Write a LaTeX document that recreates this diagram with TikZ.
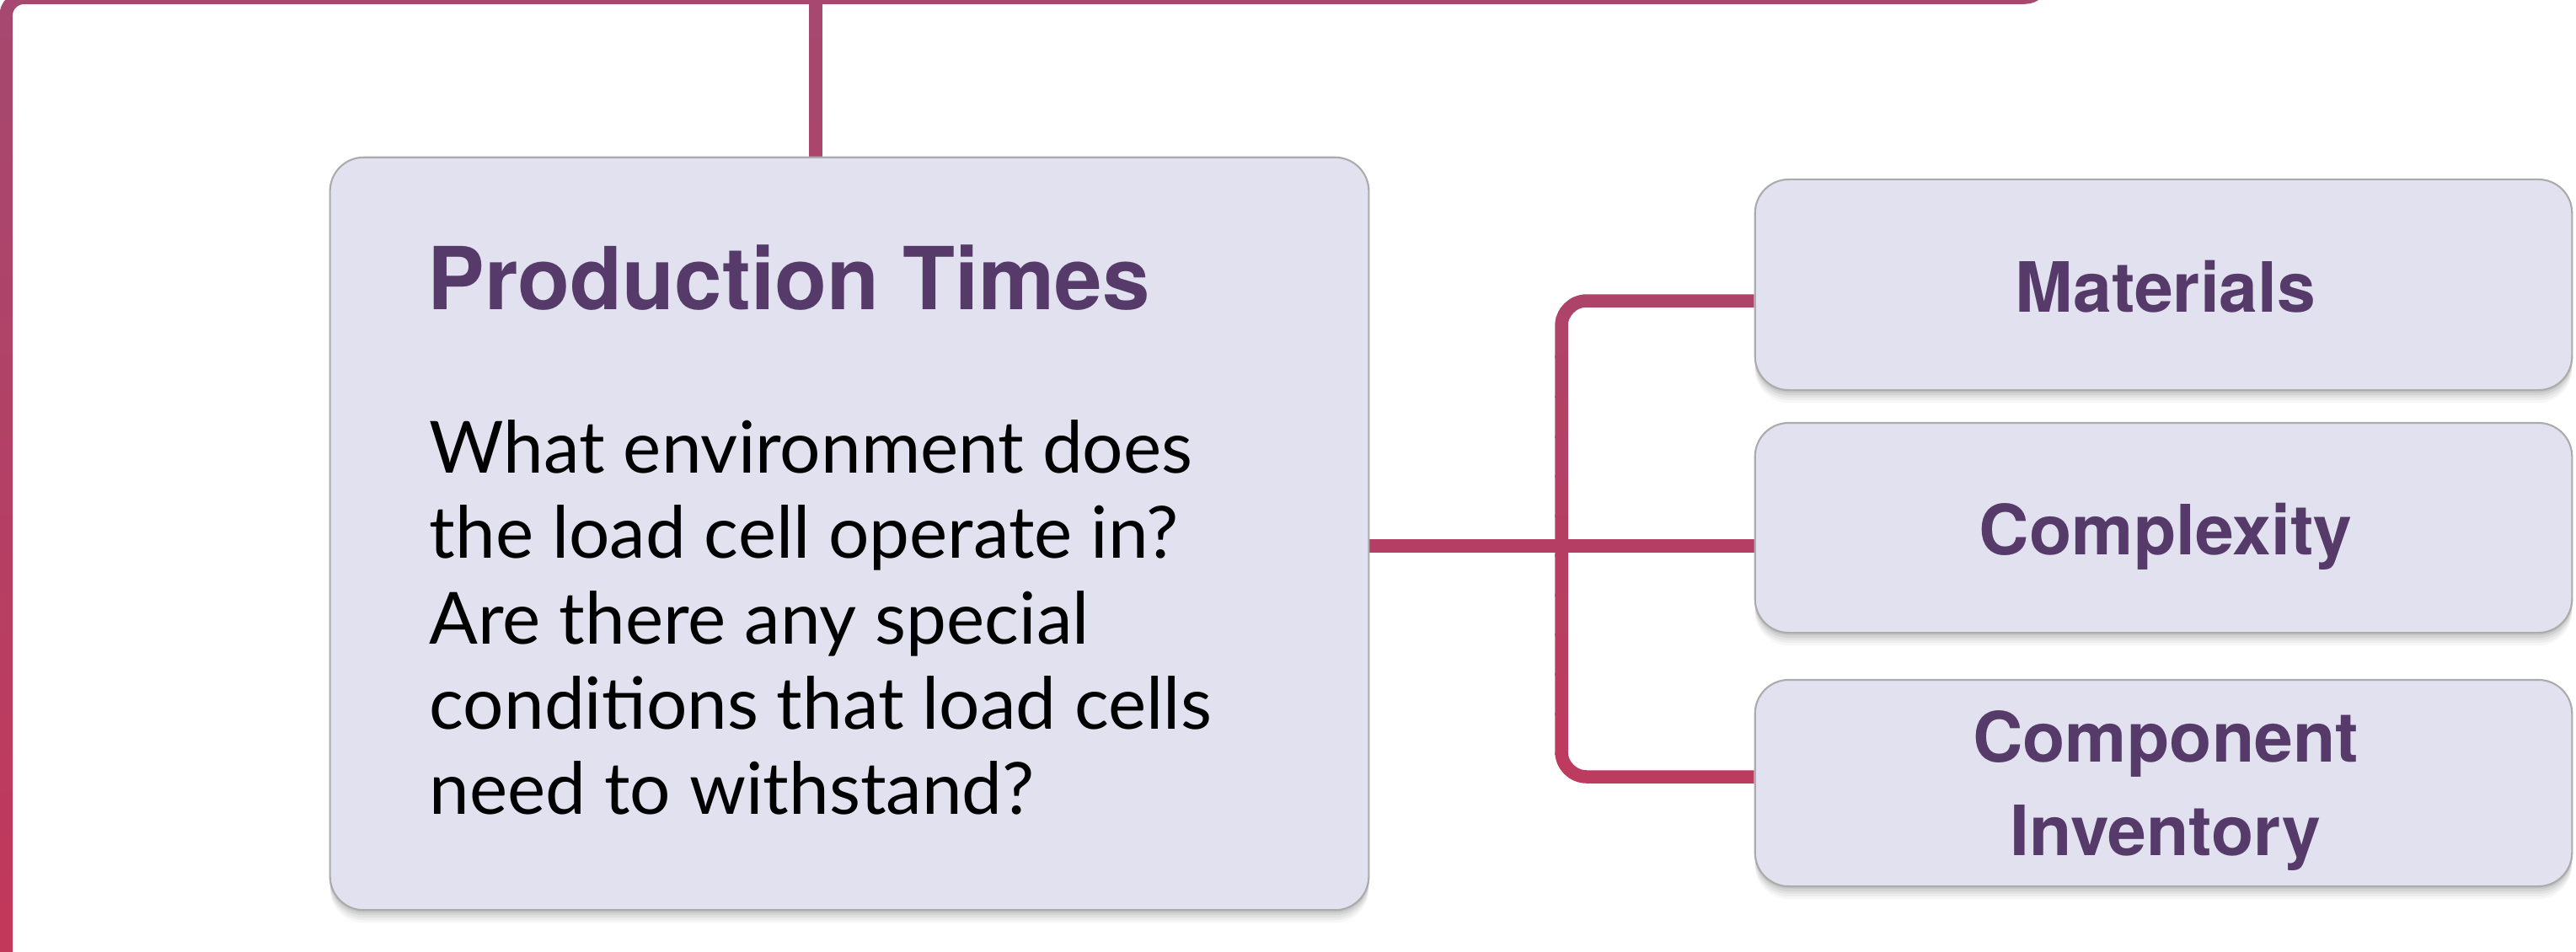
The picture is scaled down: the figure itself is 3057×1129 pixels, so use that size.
\documentclass[tikz,border=0pt]{standalone}
\usepackage{fontspec}
\usetikzlibrary{shadows,backgrounds}
\newfontfamily\headfont{TeX Gyre Heros}
\newfontfamily\headfontnarrow{TeX Gyre Heros}[FakeStretch=0.985]
\newfontfamily\bodyfont{Lato}
\definecolor{linetop}{HTML}{A6486F}
\definecolor{linebot}{HTML}{C1385B}
\definecolor{boxfill}{HTML}{E1E1EF}
\definecolor{boxdraw}{HTML}{ABABAB}
\definecolor{titlecol}{HTML}{563A69}
\tikzset{
  box/.style={draw=boxdraw, line width=0.6pt, fill=boxfill, rounded corners=0.4cm, inner sep=0pt,
    general shadow={fill=black, opacity=0.07, shadow yshift=-0.03cm},
    general shadow={fill=black, opacity=0.06, shadow yshift=-0.06cm},
    general shadow={fill=black, opacity=0.05, shadow yshift=-0.09cm},
    general shadow={fill=black, opacity=0.04, shadow yshift=-0.12cm},
    general shadow={fill=black, opacity=0.03, shadow yshift=-0.15cm}},
  conn/.style={line width=0.155cm, draw=lc, rounded corners=0.3cm},
  frameconn/.style={line width=0.155cm, draw=lc, rounded corners=0.22cm},
  headtext/.style={inner sep=0pt, text=titlecol, font=\headfontnarrow\bfseries\fontsize{29.3}{35}\selectfont},
  itemtext/.style={inner sep=0pt, text=titlecol, align=center, font=\headfont\bfseries\fontsize{23.4}{31.6}\selectfont},
  bodytext/.style={inner sep=0pt, text=black, align=left, font=\bodyfont\fontsize{24.3}{28.8}\selectfont}
}
\newcommand\drawconnectors{%
  \draw[frameconn] (framefoot) -- (7,-3) -- (2425,-3) -- (frameend);
  \draw[conn] (topbus) -- (topbus |- main.north);
  \draw[conn] (main.east |- 0,648) -- (c2.west |- 0,648);
  \draw[conn] (c1.west |- 0,357) -- (1853,357) -- (1853,922) -- (c3.west |- 0,922);
}
\begin{document}
\begin{tikzpicture}[x=0.01cm,y=-0.01cm]
\useasboundingbox (0,0) rectangle (3057,1129);
% boxes
\node[box, minimum width=12.32cm, minimum height=8.93cm] (main) at (1008,633.5) {};
\node[box, minimum width=9.69cm, minimum height=2.50cm] (c1) at (2567.5,338) {};
\node[box, minimum width=9.69cm, minimum height=2.49cm] (c2) at (2567.5,626.5) {};
\node[box, minimum width=9.69cm, minimum height=2.45cm] (c3) at (2567.5,929.5) {};
% texts
\node[headtext, anchor=base west] (title) at (507,367) {Production Times};
\node[bodytext, anchor=north west] (body) at (509,498) {What environment does\\the load cell operate in?\\Are there any special\\conditions that load cells\\need to withstand?};
\node[itemtext, anchor=base] (t1) at (2570,370) {Materials};
\node[itemtext, anchor=base] (t2) at (2570,658) {Complexity};
\node[itemtext, anchor=north] (t3) at (2570,843) {Component\\Inventory};
% connector anchors
\coordinate (topbus) at (968,-3);
\coordinate (frameend) at (2425,-80);
\coordinate (framefoot) at (7,1200);
\begin{pgfonlayer}{background}
\foreach \i in {0,...,23}{
  \pgfmathsetmacro\ya{\i*47.1-1}
  \pgfmathsetmacro\yb{\ya+49}
  \pgfmathtruncatemacro\pc{100*\i/23}
  \begin{scope}
    \clip (-20,\ya) rectangle (3100,\yb);
    \colorlet{lc}{linebot!\pc!linetop}
    \drawconnectors
  \end{scope}
}
\end{pgfonlayer}
\end{tikzpicture}
\end{document}
